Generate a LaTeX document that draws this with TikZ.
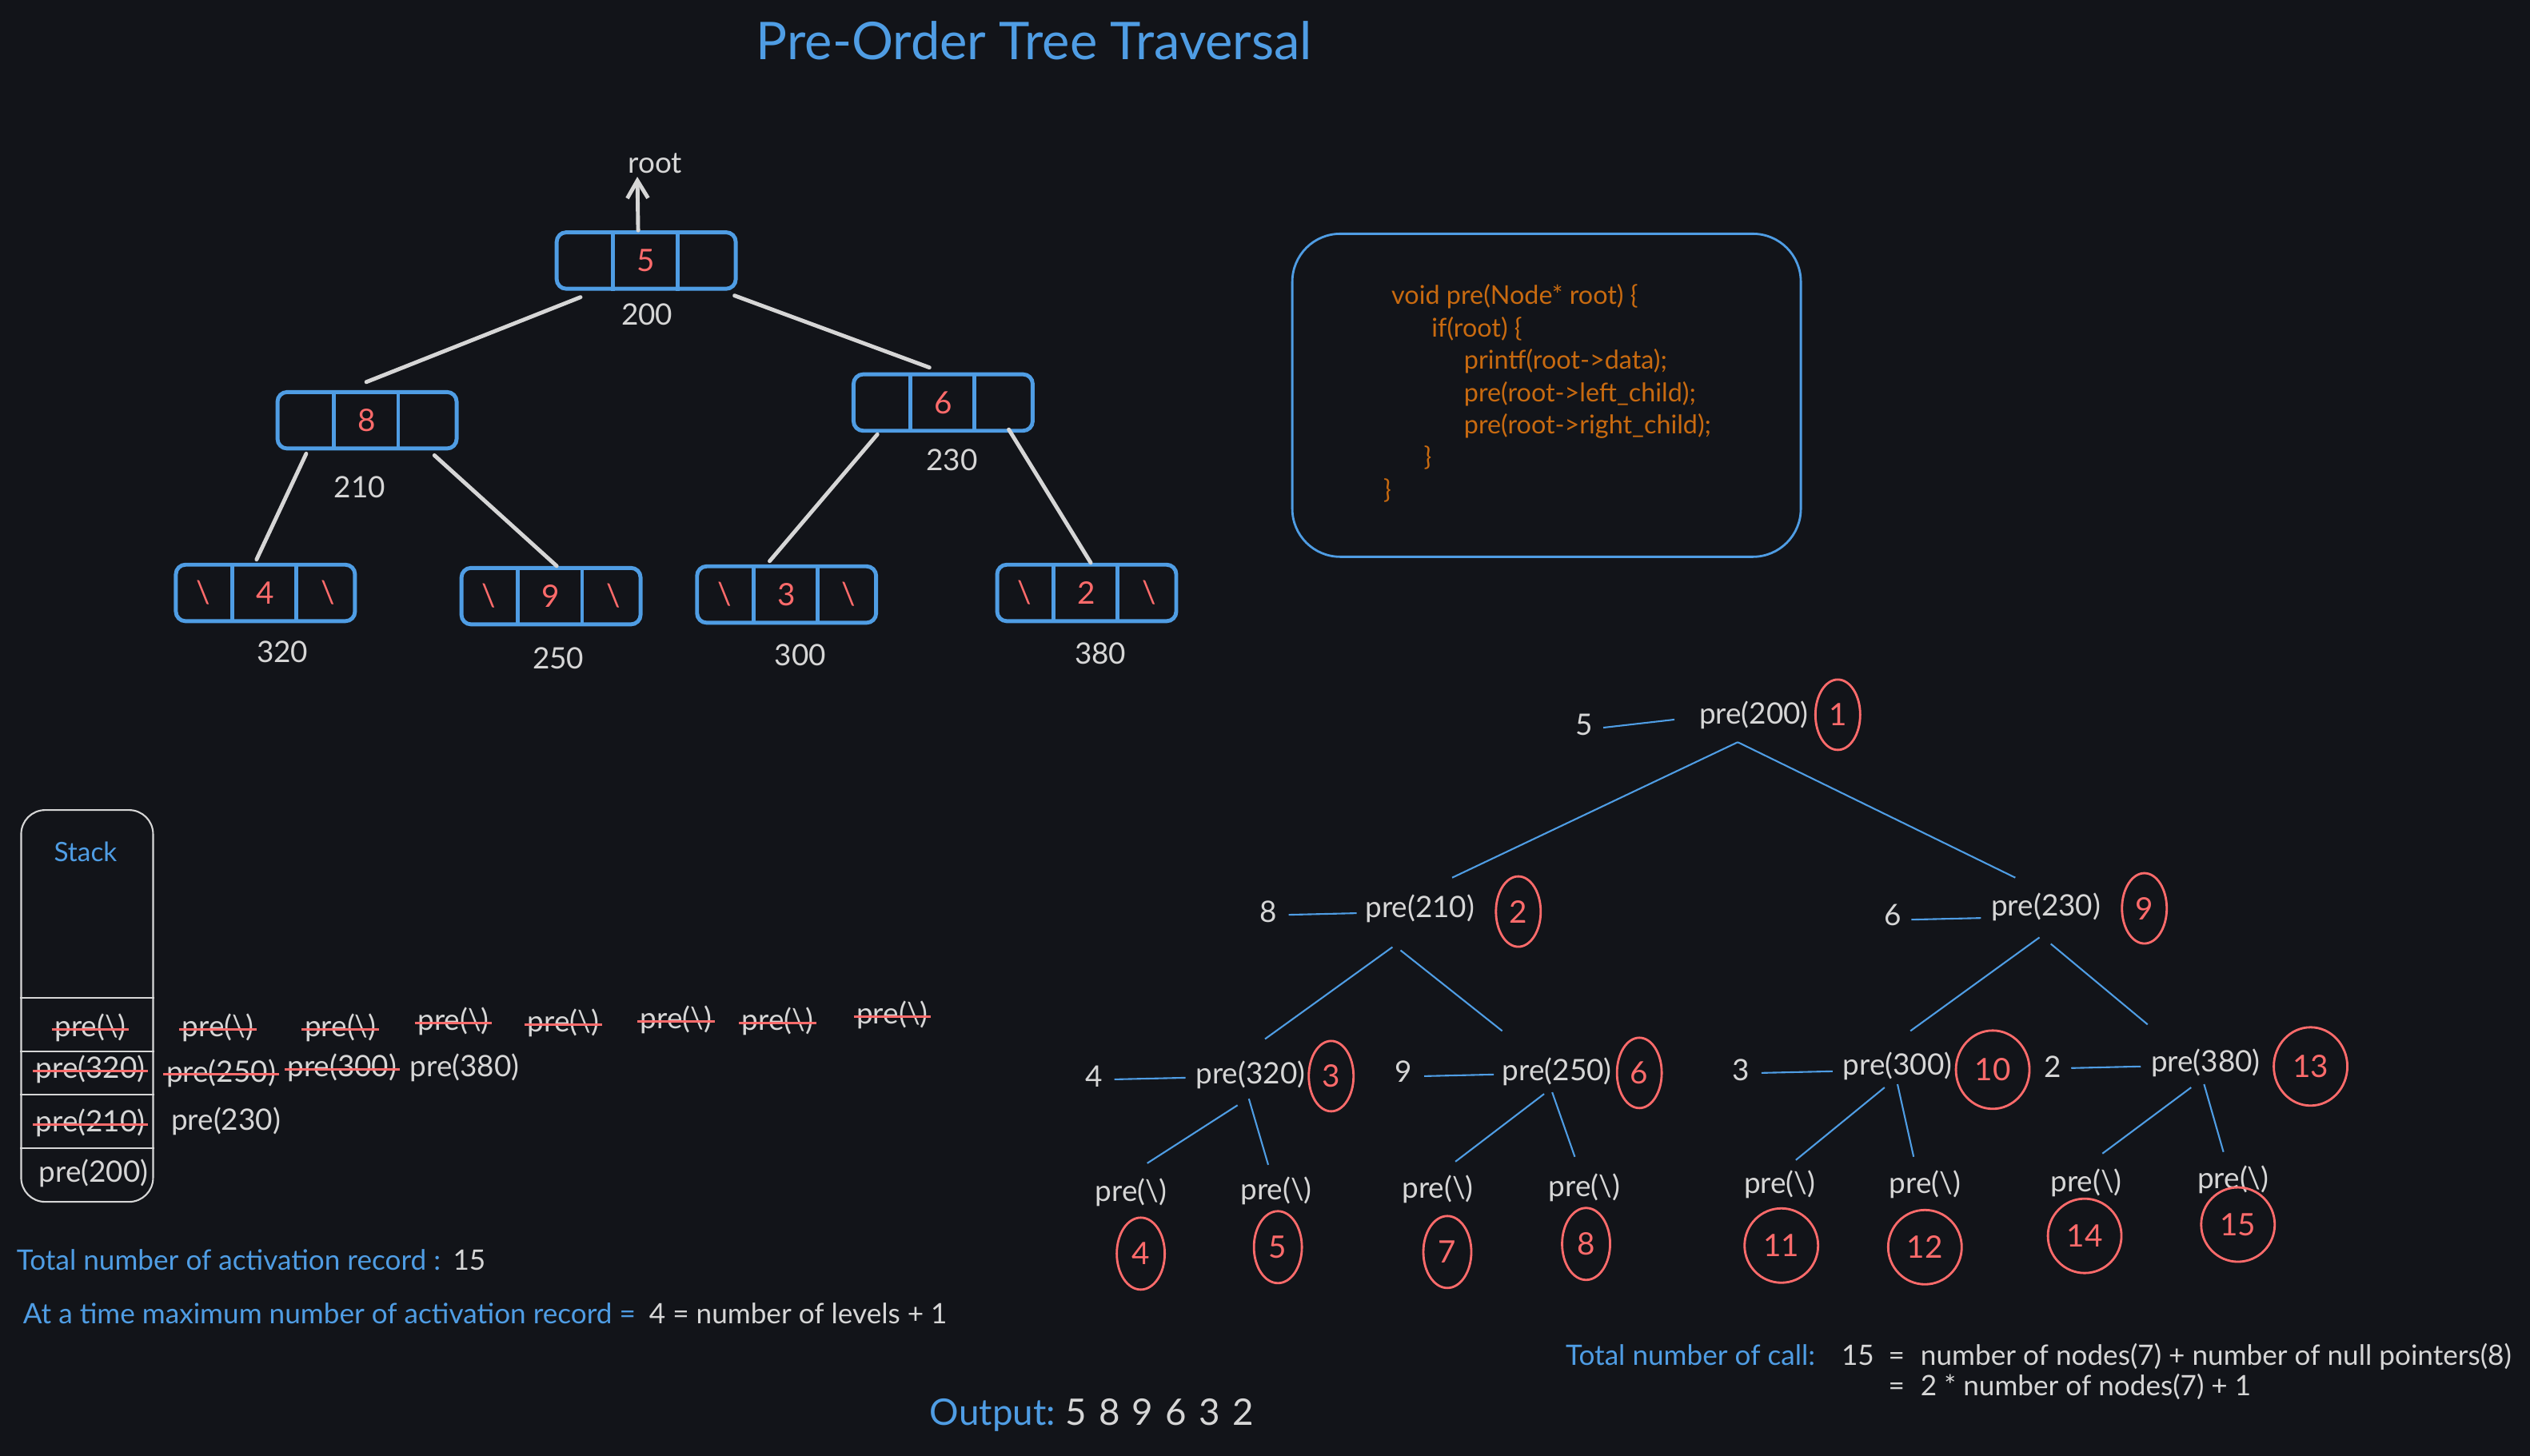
\documentclass[tikz,border=0pt]{standalone}
\usepackage{fontspec}
\setmainfont{Lato}
\usetikzlibrary{shapes.geometric,arrows.meta,calc}
\definecolor{bgc}{HTML}{121419}
\definecolor{bluec}{HTML}{4F9DE4}
\definecolor{redc}{HTML}{FF6B6B}
\definecolor{grayc}{HTML}{D6D6D6}
\definecolor{orc}{HTML}{C86A10}
\newcommand\mkbox[5]{%
  \node[tbox] (#1) at (#2,#3) {};
  \draw[tdiv] ($(#1.north west)!0.32!(#1.north east)$) -- ($(#1.south west)!0.32!(#1.south east)$);
  \draw[tdiv] ($(#1.north west)!0.67!(#1.north east)$) -- ($(#1.south west)!0.67!(#1.south east)$);
  \node[rtxt] (#1v) at (#1) {#4};
  \ifnum#5=1
    \node[rtxt] (#1l) at ($(#1.west)!0.16!(#1.east)$) {\textbackslash};
    \node[rtxt] (#1r) at ($(#1.west)!0.84!(#1.east)$) {\textbackslash};
  \fi
}
\newcommand\strikeit[1]{\draw[strk] ($(#1.west)+(-1.5,1)$) -- ($(#1.east)+(1.5,1)$);}
\begin{document}
\begin{tikzpicture}[x=0.2018mm,y=-0.2018mm,
  txt/.style={inner sep=0pt,text=grayc,font=\fontsize{10.5}{12}\selectfont},
  bltxt/.style={inner sep=0pt,text=bluec,font=\fontsize{10.5}{12}\selectfont},
  rtxt/.style={inner sep=0pt,text=redc,font=\fontsize{11}{13}\selectfont},
  small/.style={font=\fontsize{10}{12}\selectfont},
  tbox/.style={draw=bluec,line width=1.4pt,rounded corners=1.2mm,minimum width=22.4mm,minimum height=7.06mm,inner sep=0pt},
  tdiv/.style={draw=bluec,line width=1.4pt},
  edge/.style={draw=grayc,line width=1.4pt,line cap=round},
  bl/.style={draw=bluec,line width=0.6pt},
  circs/.style={ellipse,draw=redc,line width=0.8pt,text=redc,inner sep=0pt,minimum width=5.6mm,minimum height=8.8mm,font=\fontsize{11}{13}\selectfont},
  circl/.style={circs,minimum width=9.2mm,minimum height=9.8mm},
  strk/.style={draw=redc,line width=0.9pt},
  codec/.style={inner sep=0pt,align=left,text=orc,font=\fontsize{9.2}{11.5}\selectfont}]
\useasboundingbox (0,0) rectangle (1568,902.4);
\fill[bgc] (0,0) rectangle (1568,902.4);

% title
\node[bltxt,font=\fontsize{18.5}{21}\selectfont] (title) at (641,25) {Pre-Order Tree Traversal};

% memory tree
\mkbox{r5}{400.5}{161.5}{5}{0}
\mkbox{n8}{227.5}{260.5}{8}{0}
\mkbox{n6}{584.5}{249.5}{6}{0}
\mkbox{n4}{164.5}{367.5}{4}{1}
\mkbox{n9}{341.5}{369.5}{9}{1}
\mkbox{n3}{487.5}{368.5}{3}{1}
\mkbox{n2}{673.5}{367.5}{2}{1}
\node[txt] (a200) at (401,195) {200};
\node[txt] (a210) at (223,302) {210};
\node[txt] (a230) at (590,285) {230};
\node[txt] (a320) at (175,404) {320};
\node[txt] (a250) at (346,408) {250};
\node[txt] (a300) at (496,406) {300};
\node[txt] (a380) at (682,405) {380};
\node[txt] (rootlbl) at (406,101) {root};
\draw[edge,-{Straight Barb[length=2.2mm,width=2.6mm]}] ($(r5.north)+(-5,0)$) -- ($(rootlbl.south)+(-11,2)$);
\draw[edge] ($(r5.south west)+(16,4)$) -- ($(n8.north)+(-0.5,-5)$);
\draw[edge] ($(r5.south east)+(-2,3)$) -- ($(n6.north)+(-8.5,-3)$);
\draw[edge] ($(n8.south west)+(19,2)$) -- ($(n4.north)+(-5.5,-2)$);
\draw[edge] ($(n8.south east)+(-15,3)$) -- ($(n9.north)+(3.5,0)$);
\draw[edge] ($(n6.south west)+(16,1)$) -- ($(n3.north)+(-10.5,-2)$);
\draw[edge] ($(n6.south east)+(-16,-2)$) -- ($(n2.north)+(2.5,0)$);

% code box
\node[draw=bluec,line width=0.8pt,rounded corners=6mm,minimum width=63.6mm,minimum height=40.4mm] (codebox) at (958.5,245) {};
\node[codec,anchor=north west] (code) at (857,176) {%
\hspace*{2.9pt}void pre(Node* root) \{\\
\hspace*{17.2pt}if(root) \{\\
\hspace*{28.7pt}printf(root->data);\\
\hspace*{28.7pt}pre(root->left\_child);\\
\hspace*{28.7pt}pre(root->right\_child);\\
\hspace*{14.4pt}\}\\
\}};

% call tree
\node[txt] (v5) at (982,449) {5};
\node[txt] (p200) at (1087,443) {pre(200)};
\node[circs] (c1) at (1139,443) {1};
\node[txt] (v8) at (786,565) {8};
\node[txt] (p210) at (880,563) {pre(210)};
\node[circs] (c2) at (941,565) {2};
\node[txt] (v6) at (1173,567) {6};
\node[txt] (p230) at (1268,562) {pre(230)};
\node[circs] (c9) at (1329,563) {9};
\node[txt] (v4) at (678,667) {4};
\node[txt] (p320) at (775,666) {pre(320)};
\node[circs] (c3) at (825,667) {3};
\node[txt] (v9) at (870,664) {9};
\node[txt] (p250) at (965,664) {pre(250)};
\node[circs] (c6) at (1016,665) {6};
\node[txt] (v3) at (1079,663) {3};
\node[txt] (p300) at (1176,661) {pre(300)};
\node[circl] (c10) at (1235,663) {10};
\node[txt] (v2) at (1272,661) {2};
\node[txt] (p380) at (1367,659) {pre(380)};
\node[circl] (c13) at (1432,661) {13};
\node[txt] (l1) at (701,739) {pre(\textbackslash)};
\node[txt] (l2) at (791,738) {pre(\textbackslash)};
\node[txt] (l3) at (891,737) {pre(\textbackslash)};
\node[txt] (l4) at (982,736) {pre(\textbackslash)};
\node[txt] (l5) at (1103,734) {pre(\textbackslash)};
\node[txt] (l6) at (1193,734) {pre(\textbackslash)};
\node[txt] (l7) at (1293,733) {pre(\textbackslash)};
\node[txt] (l8) at (1384,731) {pre(\textbackslash)};
\node[circs,minimum width=6mm,minimum height=9mm] (c4) at (707,777) {4};
\node[circs,minimum width=6mm,minimum height=9mm] (c5) at (792,773) {5};
\node[circs,minimum width=6mm,minimum height=9mm] (c7) at (897,776) {7};
\node[circs,minimum width=6mm,minimum height=9mm] (c8) at (983,771) {8};
\node[circl,minimum height=9.3mm] (c11) at (1104,772) {11};
\node[circl,minimum height=9.3mm] (c12) at (1193,773) {12};
\node[circl,minimum height=9.3mm] (c14) at (1292,766) {14};
\node[circl,minimum height=9.3mm] (c15) at (1387,759) {15};

\draw[bl] ($(v5.east)+(6,2)$) -- ($(p200.west)+(-15,3)$);
\draw[bl] ($(v8.east)+(7,2)$) -- ($(p210.west)+(-5,3)$);
\draw[bl] ($(v6.east)+(6,3)$) -- ($(p230.west)+(-6,7)$);
\draw[bl] ($(v4.east)+(7,2)$) -- ($(p320.west)+(-6,2)$);
\draw[bl] ($(v9.east)+(7,3)$) -- ($(p250.west)+(-5,2)$);
\draw[bl] ($(v3.east)+(7,2)$) -- ($(p300.west)+(-6,3)$);
\draw[bl] ($(v2.east)+(6,1)$) -- ($(p380.west)+(-6,2)$);

\draw[bl] ($(p200.south)+(-10,8)$) -- ($(p210.north)+(20,-10)$);
\draw[bl] ($(p200.south)+(-10,8)$) -- ($(p230.north)+(-19,-9)$);
\draw[bl] ($(p210.south)+(-17,15)$) -- ($(p320.north)+(9,-13)$);
\draw[bl] ($(p210.south)+(-12,17)$) -- ($(p250.north)+(-34,-16)$);
\draw[bl] ($(p230.south)+(-4,10)$) -- ($(p300.north)+(8,-13)$);
\draw[bl] ($(p230.south)+(3,14)$) -- ($(p380.north)+(-36,-15)$);
\draw[bl] ($(p320.south)+(-8,10)$) -- ($(l1.north)+(10,-9)$);
\draw[bl] ($(p320.south)+(-1,6)$) -- ($(l2.north)+(-5,-7)$);
\draw[bl] ($(p250.south)+(-8,5)$) -- ($(l3.north)+(11,-8)$);
\draw[bl] ($(p250.south)+(-3,4)$) -- ($(l4.north)+(-6,-10)$);
\draw[bl] ($(p300.south)+(-8,4)$) -- ($(l5.north)+(10,-6)$);
\draw[bl] ($(p300.south)+(0,2)$) -- ($(l6.north)+(-7,-8)$);
\draw[bl] ($(p380.south)+(-9,6)$) -- ($(l7.north)+(10,-9)$);
\draw[bl] ($(p380.south)+(-1,4)$) -- ($(l8.north)+(-6,-8)$);

% stack
\node[draw=grayc,line width=0.6pt,rounded corners=3mm,minimum width=16.5mm,minimum height=49mm,inner sep=0pt] (stack) at (54,623.5) {};
\foreach \dy in {117,150,177,210}
  \draw[grayc,line width=0.6pt] ($(stack.north west)+(0,\dy)$) -- ($(stack.north east)+(0,\dy)$);
\node[bltxt,font=\fontsize{9.5}{11}\selectfont] (stklbl) at (53,528) {Stack};
\node[txt] (s1) at (56,637) {pre(\textbackslash)};
\node[txt] (s2) at (56,663) {pre(320)};
\node[txt] (s3) at (56,696) {pre(210)};
\node[txt] (s4) at (58,727) {pre(200)};
\node[txt] (a1) at (135,637) {pre(\textbackslash)};
\node[txt] (a2) at (211,637) {pre(\textbackslash)};
\node[txt] (a3) at (281,633) {pre(\textbackslash)};
\node[txt] (a4) at (349,634) {pre(\textbackslash)};
\node[txt] (a5) at (419,632) {pre(\textbackslash)};
\node[txt] (a6) at (482,633) {pre(\textbackslash)};
\node[txt] (a7) at (553,629) {pre(\textbackslash)};
\node[txt] (b1) at (137,665) {pre(250)};
\node[txt] (b2) at (212,662) {pre(300)};
\node[txt] (b3) at (288,662) {pre(380)};
\node[txt] (d1) at (140,695) {pre(230)};
\foreach \n in {s1,s2,s3,a1,a2,a3,a4,a5,a6,a7,b1,b2} {\strikeit{\n}}

% bottom texts
\node[bltxt,small,anchor=west] (ta) at (10,781) {Total number of activation record :};
\node[txt,small,anchor=base west] (tb) at ($(ta.base east)+(7,0)$) {15};
\node[bltxt,small,anchor=west] (tc) at (14,814) {At a time maximum number of activation record =};
\node[txt,small,anchor=base west] (td) at (402,0 |- tc.base) {4 = number of levels + 1};
\node[bltxt,small,anchor=west] (te) at (970,840) {Total number of call:};
\node[txt,small,anchor=base west] (tf) at (1141,0 |- te.base) {15};
\node[txt,small,anchor=base west] (tg) at (1170,0 |- te.base) {=};
\node[txt,small,anchor=base west] (th) at (1190,0 |- te.base) {number of nodes(7) + number of null pointers(8)};
\node[txt,small,anchor=west] (ti) at (1170,861) {=};
\node[txt,small,anchor=base west] (tj) at (1190,0 |- ti.base) {2 * number of nodes(7) + 1};
\node[bltxt,font=\fontsize{13}{15}\selectfont,anchor=west] (out) at (576,877) {Output:};
\node[txt,font=\fontsize{13}{15}\selectfont,anchor=base west] (outv) at (660,0 |- out.base) {5\,\,8\,\,9\,\,6\,\,3\,\,2};
\end{tikzpicture}
\end{document}
